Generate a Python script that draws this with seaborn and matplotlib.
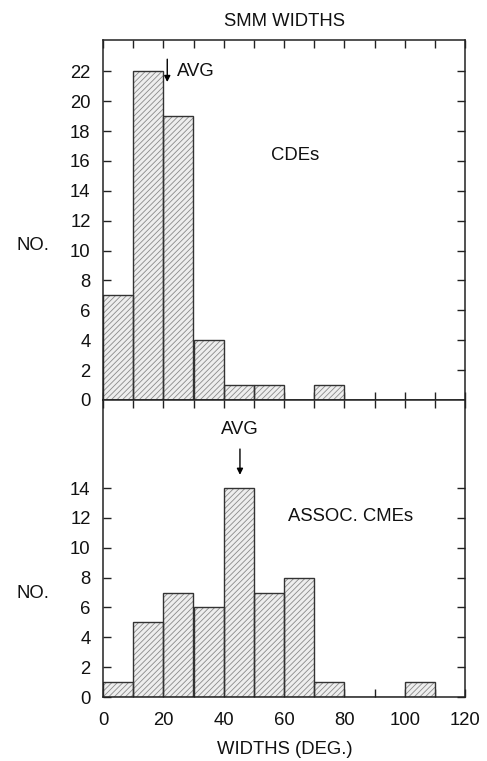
import matplotlib
matplotlib.use("Agg")
import matplotlib.pyplot as plt
import seaborn as sns
import numpy as np
import pandas as pd

# ---- data ----
cde_centers = [5, 15, 25, 35, 45, 55, 65, 75]
cde_counts = [7, 22, 19, 4, 1, 1, 0, 1]
cme_centers = [5, 15, 25, 35, 45, 55, 65, 75, 85, 95, 105]
cme_counts = [1, 5, 7, 6, 14, 7, 8, 1, 0, 0, 1]
cde_avg = 21.3
cme_avg = 45.4
title = "SMM WIDTHS"
xlabel = "WIDTHS (DEG.)"
ylabel = "NO."
x_ticks = [0, 20, 40, 60, 80, 100, 120]
top_yticks = list(range(0, 23, 2))
bot_yticks = list(range(0, 15, 2))

sns.set_style("ticks")
plt.rcParams['font.family'] = ['Liberation Sans', 'DejaVu Sans']
plt.rcParams['hatch.linewidth'] = 0.6
plt.rcParams['hatch.color'] = '#8a8a8a'
plt.rcParams['text.color'] = '#111111'
plt.rcParams['xtick.labelcolor'] = '#111111'
plt.rcParams['ytick.labelcolor'] = '#111111'

FS = 13.3

fig = plt.figure(figsize=(4.87, 7.61), dpi=100)
ax1 = fig.add_axes([103/487, 1-400/761, 362/487, 360/761])
ax2 = fig.add_axes([103/487, 1-697/761, 362/487, 297/761])

edges = np.arange(0, 130, 10)

def draw(ax, centers, counts):
    df = pd.DataFrame({"w": centers, "n": counts})
    b = [e for e in edges if e <= max(centers) + 5]
    sns.histplot(data=df, x="w", weights="n", bins=b, ax=ax,
                 color="#eeeeee", alpha=1, linewidth=0)
    for p in ax.patches:
        p.set_hatch("//////")
        p.set_edgecolor("#8a8a8a")
        p.set_linewidth(0)
    sns.histplot(data=df, x="w", weights="n", bins=b, ax=ax, fill=False,
                 color="#333333", linewidth=1.0)

draw(ax1, cde_centers, cde_counts)
draw(ax2, cme_centers, cme_counts)

for ax in (ax1, ax2):
    ax.set_xlim(0, 120)
    ax.set_xticks(np.arange(0, 121, 10))
    ax.tick_params(axis='both', direction='in', top=True, right=True,
                   length=6, width=1, color='#222222', labelsize=FS)
    ax.tick_params(axis='y', pad=9)
    for s in ax.spines.values():
        s.set_linewidth(1.1)
        s.set_color('#222222')
    ax.set_xlabel("")
    ax.set_ylabel("")

ax1.set_ylim(0, 24.1)
ax1.set_yticks(top_yticks)
ax1.tick_params(axis='x', labelbottom=False)
ax2.set_ylim(0, 19.9)
ax2.set_yticks(bot_yticks)
ax2.set_xticklabels([str(v) if v in x_ticks else "" for v in range(0, 121, 10)])
ax2.tick_params(axis='x', pad=11)

# annotations
ax1.annotate("", xy=(cde_avg, 21.1), xytext=(cde_avg, 23.0),
             arrowprops=dict(arrowstyle="-|>", color="black", lw=1, mutation_scale=9))
ax1.text(cde_avg + 3.2, 22.0, "AVG", fontsize=FS, va='center', ha='left')
ax1.text(63.6, 16.4, "CDEs", fontsize=FS, va='center', ha='center')

ax2.annotate("", xy=(cme_avg, 14.7), xytext=(cme_avg, 16.8),
             arrowprops=dict(arrowstyle="-|>", color="black", lw=1, mutation_scale=9))
ax2.text(cme_avg, 17.9, "AVG", fontsize=FS, va='center', ha='center')
ax2.text(82.2, 12.1, "ASSOC. CMEs", fontsize=FS, va='center', ha='center')

fig.text(33/487, 1-245/761, ylabel, fontsize=FS, ha='center', va='center')
fig.text(33/487, 1-593/761, ylabel, fontsize=FS, ha='center', va='center')
fig.text(285/487, 1-21/761, title, fontsize=FS, ha='center', va='center')
fig.text(285/487, 1-750/761, xlabel, fontsize=FS, ha='center', va='center')

fig.savefig("out.png", dpi=100)
